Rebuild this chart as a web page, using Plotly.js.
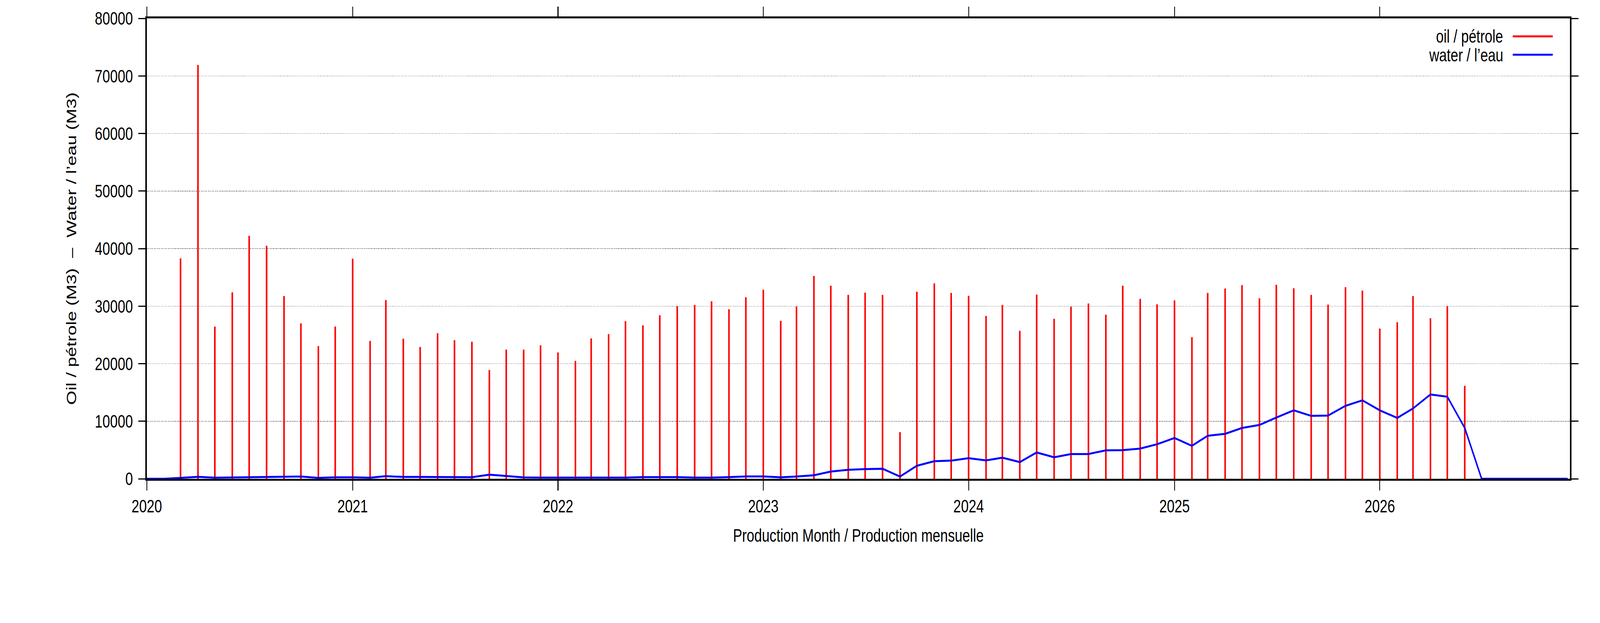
<!DOCTYPE html>
<html>
<head>
<meta charset="utf-8">
<script src="https://cdn.plot.ly/plotly-3.0.1.min.js"></script>
<style>
  html, body { margin: 0; padding: 0; background: #fff; overflow: hidden; }
  #chart { width: 5483px; height: 1594px; transform-origin: 0 0; }
</style>
</head>
<body>
<div id="chart"></div>
<script>
// monthly production, one array per year (Jan..Dec)
var years = [2020, 2021, 2022, 2023, 2024, 2025, 2026];

var oil2020 = [0, 0, 38300, 71900, 26450, 32400, 42200, 40500, 31750, 27000, 23050, 26450];
var oil2021 = [38250, 23950, 31050, 24350, 22900, 25300, 24100, 23800, 18900, 22450, 22450, 23200];
var oil2022 = [21950, 20500, 24400, 25150, 27400, 26650, 28400, 30000, 30200, 30850, 29450, 31550];
var oil2023 = [32850, 27450, 29950, 35250, 33550, 31950, 32350, 31950, 8100, 32500, 33950, 32300];
var oil2024 = [31800, 28300, 30200, 25700, 32000, 27800, 29900, 30450, 28500, 33550, 31250, 30300];
var oil2025 = [31000, 24600, 32300, 33050, 33650, 31350, 33700, 33100, 31950, 30250, 33300, 32700];
var oil2026 = [26100, 27200, 31750, 27900, 30000, 16150, 0, 0, 0, 0, 0, 0];

var water2020 = [0, 0, 160, 340, 180, 230, 250, 250, 320, 390, 160, 250];
var water2021 = [250, 180, 450, 320, 320, 320, 270, 270, 720, 520, 230, 200];
var water2022 = [200, 200, 180, 180, 200, 290, 290, 290, 200, 200, 290, 400];
var water2023 = [410, 250, 390, 610, 1250, 1560, 1680, 1740, 390, 2260, 3060, 3150];
var water2024 = [3580, 3190, 3670, 2900, 4570, 3740, 4300, 4300, 4940, 4980, 5250, 6000];
var water2025 = [7090, 5730, 7470, 7810, 8830, 9350, 10640, 11890, 10930, 10980, 12680, 13630];
var water2026 = [11890, 10570, 12220, 14650, 14260, 8830, 0, 0, 0, 0, 0, 0];

var yearTicks = ["2020", "2021", "2022", "2023", "2024", "2025", "2026"];

var oilByYear = [oil2020, oil2021, oil2022, oil2023, oil2024, oil2025, oil2026];
var waterByYear = [water2020, water2021, water2022, water2023, water2024, water2025, water2026];

var months = [];
var oil = [];
var water = [];
for (var i = 0; i < years.length; i++) {
  for (var m = 0; m < 12; m++) {
    months.push(years[i] + "-" + (m < 9 ? "0" : "") + (m + 1) + "-01");
    oil.push(oilByYear[i][m]);
    water.push(waterByYear[i][m]);
  }
}

// drawn at 5483x1594, then stretched onto whatever viewport we actually get
var W = window.innerWidth || 5483;
var H = window.innerHeight || 1594;
document.getElementById("chart").style.transform = "scale(" + (W / 5483) + "," + (H / 1594) + ")";

var font = "Liberation Sans, Arial, Helvetica, sans-serif";
var fs = 47;
var DAY = 86400000;

var oilTrace = {
  x: months,
  y: oil,
  type: "bar",
  width: 2.8 * DAY,
  marker: { color: "#ff0000", line: { width: 0 } },
  name: "oil / pétrole"
};

var waterTrace = {
  x: months,
  y: water,
  type: "scatter",
  mode: "lines",
  line: { color: "#0000ff", width: 5 },
  name: "water / l’eau"
};

var layout = {
  width: 5483,
  height: 1594,
  margin: { l: 503, r: 103, t: 47, b: 369, pad: 0 },
  paper_bgcolor: "#fff",
  plot_bgcolor: "#fff",
  showlegend: false,
  hovermode: false,
  font: { family: font, size: fs, color: "#000" },
  xaxis: {
    type: "date",
    range: ["2020-01-01", "2026-12-05"],
    tickvals: yearTicks.map(function (y) { return y + "-01-01"; }),
    ticktext: yearTicks,
    ticks: "outside",
    ticklen: 25,
    tickwidth: 3,
    tickcolor: "#000",
    ticklabelstandoff: 0,
    showline: true,
    linewidth: 5,
    linecolor: "#000",
    mirror: "ticks",
    showgrid: false,
    zeroline: false,
    layer: "below traces",
    tickfont: { family: font, size: fs, color: "#000" },
    title: {
      text: "Production Month / Production mensuelle",
      font: { family: font, size: fs, color: "#000" },
      standoff: 34
    }
  },
  yaxis: {
    range: [0, 80000],
    dtick: 10000,
    tick0: 0,
    tickformat: "d",
    ticks: "outside",
    ticklen: 24,
    tickwidth: 3,
    tickcolor: "#000",
    ticklabelstandoff: 9,
    showline: true,
    linewidth: 5,
    linecolor: "#000",
    mirror: "ticks",
    showgrid: true,
    gridcolor: "#666",
    gridwidth: 1.5,
    griddash: "dot",
    zeroline: false,
    layer: "below traces",
    tickfont: { family: font, size: fs, color: "#000" },
    title: {
      text: "Oil / pétrole (M3)\u00a0\u00a0–\u00a0\u00a0Water / l’eau (M3)",
      font: { family: font, size: fs, color: "#000" },
      standoff: 50
    }
  },
  // gnuplot-style key: text on the left, line sample on the right
  annotations: [
    { xref: "paper", yref: "paper", x: 0.9535, y: 0.961, xanchor: "right", yanchor: "middle",
      text: "oil / pétrole", showarrow: false, font: { family: font, size: fs, color: "#000" } },
    { xref: "paper", yref: "paper", x: 0.9535, y: 0.921, xanchor: "right", yanchor: "middle",
      text: "water / l’eau", showarrow: false, font: { family: font, size: fs, color: "#000" } }
  ],
  shapes: [
    { type: "line", xref: "paper", yref: "paper", x0: 0.9598, x1: 0.9879, y0: 0.961, y1: 0.961,
      line: { color: "#ff0000", width: 5 } },
    { type: "line", xref: "paper", yref: "paper", x0: 0.9598, x1: 0.9879, y0: 0.921, y1: 0.921,
      line: { color: "#0000ff", width: 5 } }
  ]
};

Plotly.newPlot("chart", [oilTrace, waterTrace], layout, { staticPlot: true, displayModeBar: false });
</script>
</body>
</html>
